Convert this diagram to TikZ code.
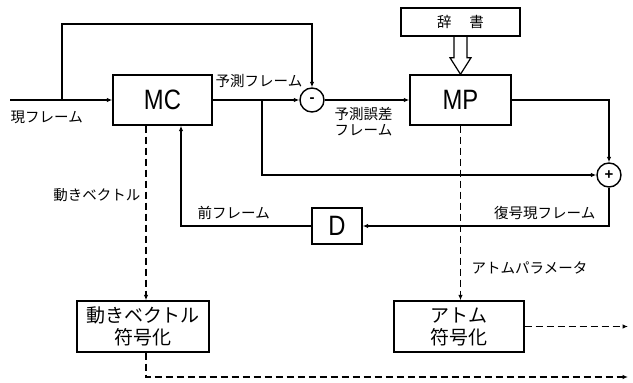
\documentclass[tikz,border=0pt]{standalone}
\usepackage{fontspec}
\setmainfont{Noto Sans CJK JP}
\newfontfamily\lat{Liberation Sans}
\usetikzlibrary{arrows.meta,calc}
\begin{document}
\begin{tikzpicture}[x=1pt,y=-1pt,line width=1.4pt,
  >={Latex[length=5.5pt,width=4.5pt]},
  box/.style={draw,inner sep=0pt,align=center},
  boxtxt/.style={font=\fontsize{19}{22}\selectfont},
  lbl/.style={font=\fontsize{14.5}{16}\selectfont,inner sep=0pt},
  sum/.style={draw,circle,minimum size=24pt,inner sep=0pt,font=\lat\bfseries\fontsize{15}{15}\selectfont},
  dsh/.style={dash pattern=on 7pt off 4pt}]
\useasboundingbox (0,0) rectangle (633,383);
% blocks
\node[box,minimum width=99pt,minimum height=50pt] (mc) at (162.5,100) {\scalebox{0.85}[1]{\lat\fontsize{28}{30}\selectfont MC}};
\node[box,minimum width=101pt,minimum height=50pt] (mp) at (460.5,100) {\scalebox{0.85}[1]{\lat\fontsize{28}{30}\selectfont MP}};
\node[box,minimum width=119pt,minimum height=28pt,lbl] (dict) at (460.5,22) {辞\hspace{18pt}書};
\node[box,minimum width=50pt,minimum height=36pt] (d) at (337,226) {\scalebox{0.85}[1]{\lat\fontsize{28}{30}\selectfont D}};
\node[box,minimum width=132pt,minimum height=51pt,boxtxt] (mvc) at (143,326.5) {動きベクトル\\符号化};
\node[box,minimum width=130pt,minimum height=51pt,boxtxt] (atom) at (459,326.5) {アトム\\符号化};
\node[sum] (minus) at (312,100) {-};
\node[sum] (plus) at (609,175) {+};
% coordinates
\coordinate (src) at (10,100);
\coordinate (tap) at (62,100);
\coordinate (top) at (62,24);
\coordinate (br) at (262,100);
\coordinate (end1) at (628,377);
\coordinate (end2) at (628,326.5);
% connectors
\draw[->] (src) -- (mc.west);
\draw[->] (tap) -- (top) -| (minus.north);
\draw[->] (mc.east) -- (minus.west);
\draw[->] (br) |- (plus.west);
\draw[->] (minus.east) -- (mp.west);
\draw[->] (mp.east) -| (plus.north);
\draw[->] (plus.south) |- (d.east);
\draw[->] (d.west) -| ([xshift=18.5pt]mc.south);
\draw[dsh,->] ([xshift=-16.5pt]mc.south) -- ([xshift=-16.5pt]mc.south |- mvc.north);
\draw[dsh,->] ([xshift=3pt]mvc.south) |- (end1);
\draw[dsh,->] (mp.south) -- (mp.south |- atom.north);
\draw[dsh,->] (atom.east) -- (end2);
% hollow arrow
\draw[line width=1.2pt,line join=miter]
  ($(dict.south)+(-6.5,0)$) -- ($(dict.south)+(-6.5,21)$) -- ($(dict.south)+(-10.5,21)$)
  -- (mp.north) -- ($(dict.south)+(10.5,21)$) -- ($(dict.south)+(6.5,21)$) -- ($(dict.south)+(6.5,0)$);
% labels
\node[lbl,anchor=west] (l1) at (10,117) {現フレーム};
\node[lbl,anchor=west] (l2) at (215,81) {予測フレーム};
\node[lbl,anchor=north west,align=left,font=\fontsize{14.5}{15.5}\selectfont] (l3) at (334,107) {予測誤差\\フレーム};
\node[lbl,anchor=east] (l4) at (141,195) {動きベクトル};
\node[lbl,anchor=west] (l5) at (197,213) {前フレーム};
\node[lbl,anchor=east] (l6) at (596,213) {復号現フレーム};
\node[lbl,anchor=west] (l7) at (471,268) {アトムパラメータ};
\end{tikzpicture}
\end{document}
